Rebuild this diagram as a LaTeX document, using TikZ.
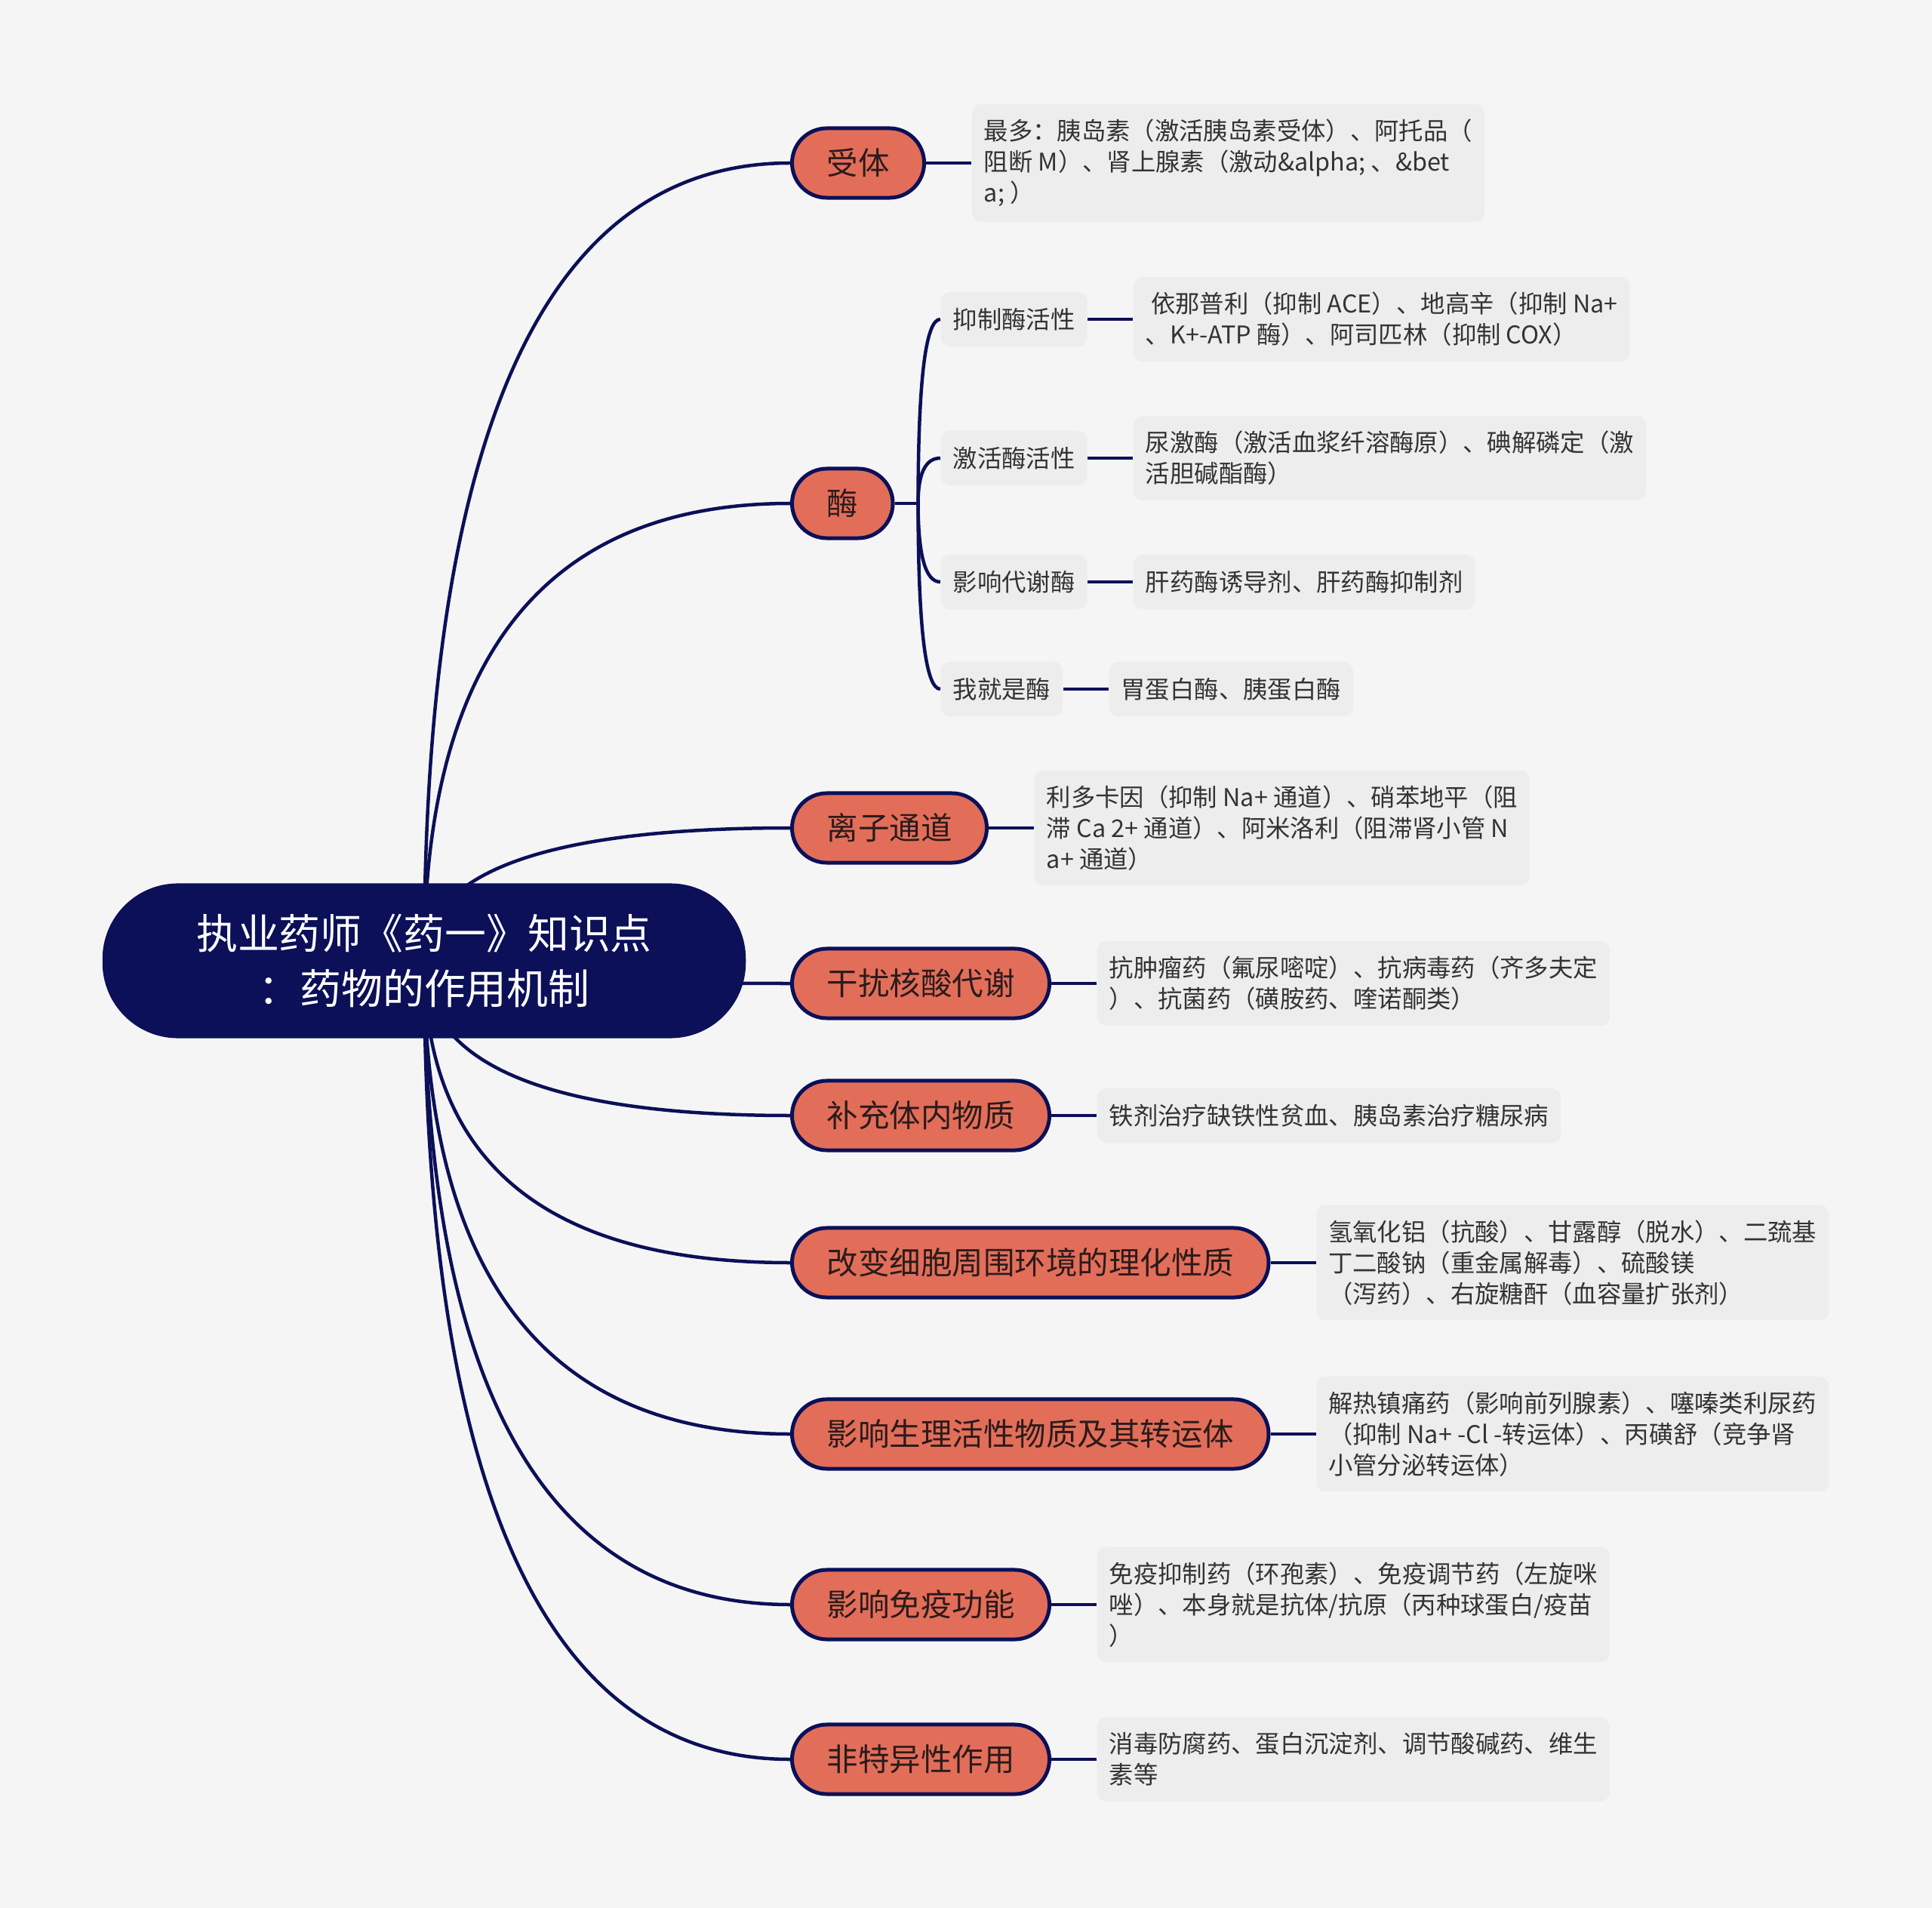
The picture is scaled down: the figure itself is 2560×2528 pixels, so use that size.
\documentclass[tikz,border=0pt]{standalone}
\usepackage{fontspec}
\setmainfont{Noto Sans CJK SC}
\usepackage{xcolor}
\usepackage{tikz}
\usetikzlibrary{calc, positioning, backgrounds}

\definecolor{nenxam}{HTML}{F5F5F5}
\definecolor{xanhdam}{HTML}{0B1058}
\definecolor{camdo}{HTML}{E26E5A}
\definecolor{hopxam}{HTML}{EDEDED}
\definecolor{chuxam}{HTML}{333333}
\definecolor{chunhanh}{HTML}{2B1B1B}

\begin{document}
\begin{tikzpicture}[x=0.01cm, y=-0.01cm,
    goc/.style={rectangle, rounded corners=1.0cm, fill=xanhdam, text=white,
        minimum width=8.52cm, minimum height=2.05cm, align=center,
        font=\fontsize{15.6pt}{20.8pt}\selectfont},
    nhanh/.style={rectangle, rounded corners=0.46cm, fill=camdo, draw=xanhdam,
        line width=0.05cm, text=chunhanh, minimum height=0.92cm,
        inner xsep=0.46cm, inner ysep=0pt, anchor=west,
        font=\fontsize{11.8pt}{14pt}\selectfont},
    hop/.style={rectangle, rounded corners=0.12cm, fill=hopxam, text=chuxam,
        inner xsep=0.16cm, inner ysep=0.2cm, align=left,
        font=\fontsize{9.2pt}{11.67pt}\selectfont},
    noi/.style={draw=xanhdam, line width=0.045cm}]

    % =================================================================
    % 1. NÚT GỐC VÀ CÁC NHÁNH CHÍNH
    % =================================================================
    \useasboundingbox (0,0) rectangle (2560,2528);

    \node[goc] (goc) at (562,1273) {执业药师《药一》知识点\\：药物的作用机制};

    \node[nhanh] (b1) at (1047,216)  {受体};
    \node[nhanh] (b2) at (1047,667)  {酶};
    \node[nhanh] (b3) at (1047,1097) {离子通道};
    \node[nhanh] (b4) at (1047,1303) {干扰核酸代谢};
    \node[nhanh] (b5) at (1047,1478) {补充体内物质};
    \node[nhanh] (b6) at (1047,1673) {改变细胞周围环境的理化性质};
    \node[nhanh] (b7) at (1047,1900) {影响生理活性物质及其转运体};
    \node[nhanh] (b8) at (1047,2126) {影响免疫功能};
    \node[nhanh] (b9) at (1047,2331) {非特异性作用};

    % =================================================================
    % 2. CÁC NHÁNH CON CỦA "酶"
    % =================================================================
    \node[hop, anchor=west, minimum height=0.72cm] (s1) at (1246,423) {抑制酶活性};
    \node[hop, anchor=west, minimum height=0.72cm] (s2) at (1246,607) {激活酶活性};
    \node[hop, anchor=west, minimum height=0.72cm] (s3) at (1246,771) {影响代谢酶};
    \node[hop, anchor=west, minimum height=0.72cm] (s4) at (1246,913) {我就是酶};

    % =================================================================
    % 3. CÁC HỘP CHÚ THÍCH
    % =================================================================
    \node[hop, right=0.6cm of b1] (l1) {最多：胰岛素（激活胰岛素受体）、阿托品（\\阻断 M）、肾上腺素（激动\&alpha; 、\&bet\\a; ）};
    \node[hop, right=0.6cm of s1] (ls1) {\ 依那普利（抑制 ACE）、地高辛（抑制 Na+\\、K+-ATP 酶）、阿司匹林（抑制 COX）};
    \node[hop, right=0.6cm of s2] (ls2) {尿激酶（激活血浆纤溶酶原）、碘解磷定（激\\活胆碱酯酶）};
    \node[hop, right=0.6cm of s3, minimum height=0.72cm] (ls3) {肝药酶诱导剂、肝药酶抑制剂};
    \node[hop, right=0.6cm of s4, minimum height=0.72cm] (ls4) {胃蛋白酶、胰蛋白酶};
    \node[hop, right=0.6cm of b3] (l3) {利多卡因（抑制 Na+ 通道）、硝苯地平（阻\\滞 Ca 2+ 通道）、阿米洛利（阻滞肾小管 N\\a+ 通道）};
    \node[hop, right=0.6cm of b4] (l4) {抗肿瘤药（氟尿嘧啶）、抗病毒药（齐多夫定\\）、抗菌药（磺胺药、喹诺酮类）};
    \node[hop, right=0.6cm of b5, minimum height=0.72cm] (l5) {铁剂治疗缺铁性贫血、胰岛素治疗糖尿病};
    \node[hop, right=0.6cm of b6] (l6) {氢氧化铝（抗酸）、甘露醇（脱水）、二巯基\\丁二酸钠（重金属解毒）、硫酸镁\\（泻药）、右旋糖酐（血容量扩张剂）};
    \node[hop, right=0.6cm of b7] (l7) {解热镇痛药（影响前列腺素）、噻嗪类利尿药\\（抑制 Na+ -Cl -转运体）、丙磺舒（竞争肾\\小管分泌转运体）};
    \node[hop, right=0.6cm of b8] (l8) {免疫抑制药（环孢素）、免疫调节药（左旋咪\\唑）、本身就是抗体/抗原（丙种球蛋白/疫苗\\）};
    \node[hop, right=0.6cm of b9] (l9) {消毒防腐药、蛋白沉淀剂、调节酸碱药、维生\\素等};

    % =================================================================
    % 4. ĐƯỜNG NỐI (VẼ Ở LỚP NỀN)
    % =================================================================
    \begin{scope}[on background layer]
        \fill[nenxam] (0,0) rectangle (2560,2528);

        % Đường cong từ tâm nút gốc tới các nhánh
        \foreach \i in {1,...,9}
            \draw[noi] (goc.center) .. controls ($(goc.center)!2/3!(goc.center |- b\i.west)$)
                and ($(b\i.west)!2/3!(goc.center |- b\i.west)$) .. (b\i.west);

        % Trục nhỏ của nhánh "酶"
        \coordinate (truc) at ($(b2.east)+(31,0)$);
        \draw[noi] (b2.east) -- (truc);
        \foreach \i in {1,...,4}
            \draw[noi] (truc) .. controls ($(truc)!2/3!(truc |- s\i.west)$)
                and ($(s\i.west)!2/3!(truc |- s\i.west)$) .. (s\i.west);

        % Nối nhánh với hộp chú thích
        \foreach \a/\b in {b1/l1, b3/l3, b4/l4, b5/l5, b6/l6, b7/l7, b8/l8, b9/l9,
                           s1/ls1, s2/ls2, s3/ls3, s4/ls4}
            \draw[noi] (\a) -- (\b);
    \end{scope}

\end{tikzpicture}
\end{document}
